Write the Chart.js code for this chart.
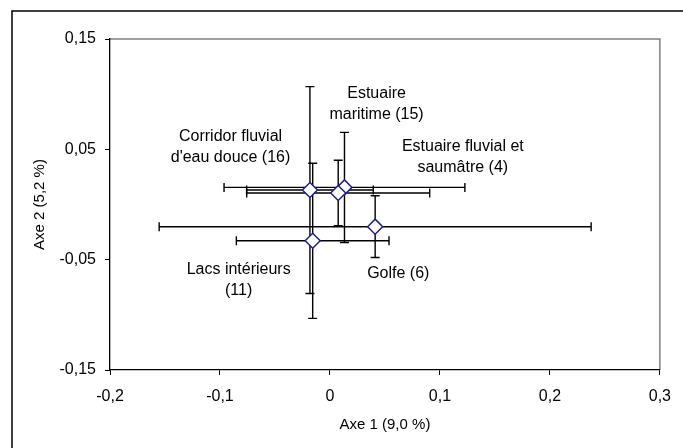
<!DOCTYPE html>
<html><head><meta charset="utf-8">
<script src="https://cdn.jsdelivr.net/npm/chart.js@4"></script>
<style>html,body{margin:0;padding:0;background:#fff}</style>
</head><body>
<canvas id="c" width="683" height="448"></canvas>
<script>
const categories = ["Corridor fluvial d'eau douce (16)", "Estuaire maritime (15)", "Estuaire fluvial et saumâtre (4)", "Golfe (6)", "Lacs intérieurs (11)"];
const xValues = [-0.0182, 0.0132, 0.0075, 0.0411, -0.0157];
const yValues = [0.0131, 0.0155, 0.0104, -0.0201, -0.0329];
const xErrors = [0.0576, 0.1095, 0.0832, 0.1964, 0.0694];
const yErrors = [0.0937, 0.0499, 0.0297, 0.0280, 0.0703];
const xTicks = [-0.2, -0.1, 0, 0.1, 0.2, 0.3];
const xTickLabels = ["-0,2", "-0,1", "0", "0,1", "0,2", "0,3"];
const yTicks = [-0.15, -0.05, 0.05, 0.15];
const yTickLabels = ["-0,15", "-0,05", "0,05", "0,15"];
const labelLines = [["Corridor fluvial", "d'eau douce (16)"], ["Estuaire", "maritime (15)"], ["Estuaire fluvial et", "saumâtre (4)"], ["Golfe (6)"], ["Lacs intérieurs", "(11)"]];
const xTitle = "Axe 1 (9,0 %)";
const yTitle = "Axe 2 (5,2 %)";

// annotation anchor (data units) of first text line for each category
const labelPlacement = {
  x: [-0.0904, 0.0424, 0.1208, 0.0621, -0.0830],
  y: [0.0614, 0.1006, 0.0521, -0.0623, -0.0592],
  lineHeight: 21
};

const FONT = "'Liberation Sans', Arial, sans-serif";

const frame = {
  id: 'frame',
  beforeDraw(chart) {
    const ctx = chart.ctx, a = chart.chartArea;
    ctx.save();
    ctx.fillStyle = '#fff';
    ctx.fillRect(0, 0, chart.width, chart.height);
    ctx.strokeStyle = '#000';
    ctx.lineWidth = 1.5;
    ctx.beginPath();
    ctx.moveTo(12, chart.height);
    ctx.lineTo(12, 11);
    ctx.lineTo(chart.width, 11);
    ctx.stroke();
    ctx.strokeStyle = '#808080';
    ctx.lineWidth = 1.5;
    ctx.beginPath();
    ctx.moveTo(a.left, a.top);
    ctx.lineTo(a.right, a.top);
    ctx.lineTo(a.right, a.bottom);
    ctx.stroke();
    ctx.restore();
  }
};

const errorBars = {
  id: 'errorBars',
  beforeDatasetsDraw(chart) {
    const ctx = chart.ctx, xs = chart.scales.x, ys = chart.scales.y;
    const cap = 4.5;
    ctx.save();
    ctx.strokeStyle = '#000';
    ctx.lineWidth = 1.4;
    for (let i = 0; i < xValues.length; i++) {
      const px = xs.getPixelForValue(xValues[i]);
      const py = ys.getPixelForValue(yValues[i]);
      const x1 = xs.getPixelForValue(xValues[i] - xErrors[i]);
      const x2 = xs.getPixelForValue(xValues[i] + xErrors[i]);
      const y1 = ys.getPixelForValue(yValues[i] + yErrors[i]);
      const y2 = ys.getPixelForValue(yValues[i] - yErrors[i]);
      ctx.beginPath();
      ctx.moveTo(x1, py); ctx.lineTo(x2, py);
      ctx.moveTo(x1, py - cap); ctx.lineTo(x1, py + cap);
      ctx.moveTo(x2, py - cap); ctx.lineTo(x2, py + cap);
      ctx.moveTo(px, y1); ctx.lineTo(px, y2);
      ctx.moveTo(px - cap, y1); ctx.lineTo(px + cap, y1);
      ctx.moveTo(px - cap, y2); ctx.lineTo(px + cap, y2);
      ctx.stroke();
    }
    ctx.restore();
  },
  afterDatasetsDraw(chart) {
    const ctx = chart.ctx, xs = chart.scales.x, ys = chart.scales.y;
    ctx.save();
    ctx.fillStyle = '#000';
    ctx.font = '16px ' + FONT;
    ctx.textAlign = 'center';
    ctx.textBaseline = 'middle';
    for (let i = 0; i < labelLines.length; i++) {
      const px = xs.getPixelForValue(labelPlacement.x[i]);
      const py = ys.getPixelForValue(labelPlacement.y[i]);
      labelLines[i].forEach((t, k) => ctx.fillText(t, px, py + k * labelPlacement.lineHeight));
    }
    ctx.restore();
  }
};

new Chart(document.getElementById('c'), {
  type: 'scatter',
  data: {
    datasets: [{
      label: 'Groupes',
      data: xValues.map((x, i) => ({x: x, y: yValues[i]})),
      pointStyle: 'rectRot',
      pointRadius: 7.5,
      pointHoverRadius: 7.5,
      backgroundColor: '#fff',
      borderColor: '#1f1f8a',
      borderWidth: 1.5
    }]
  },
  options: {
    responsive: false,
    animation: false,
    devicePixelRatio: 1,
    layout: {padding: {left: 0, top: 39, right: 23, bottom: 0}},
    plugins: {legend: {display: false}, tooltip: {enabled: false}},
    scales: {
      x: {
        type: 'linear', min: -0.2, max: 0.3,
        afterBuildTicks: s => { s.ticks = xTicks.map(v => ({value: v})); },
        afterFit: s => { s.height = 78; },
        grid: {drawOnChartArea: false, drawTicks: true, tickLength: 5, color: '#000', lineWidth: 1},
        border: {display: true, color: '#000', width: 1.3},
        ticks: {color: '#000', padding: 12, maxRotation: 0, font: {family: FONT, size: 16},
          callback: (v, i) => xTickLabels[i]},
        title: {display: true, text: xTitle, color: '#000', font: {family: FONT, size: 15}, padding: {top: 0, bottom: 14}}
      },
      y: {
        type: 'linear', min: -0.15, max: 0.15,
        afterBuildTicks: s => { s.ticks = yTicks.map(v => ({value: v})); },
        afterFit: s => { s.width = 110; },
        grid: {drawOnChartArea: false, drawTicks: true, tickLength: 5, color: '#000', lineWidth: 1},
        border: {display: true, color: '#000', width: 1.3},
        ticks: {color: '#000', padding: 9, font: {family: FONT, size: 16},
          callback: (v, i) => yTickLabels[i]},
        title: {display: true, text: yTitle, color: '#000', font: {family: FONT, size: 15}, padding: {top: 31, bottom: 0}}
      }
    }
  },
  plugins: [frame, errorBars]
});
</script>
</body></html>
